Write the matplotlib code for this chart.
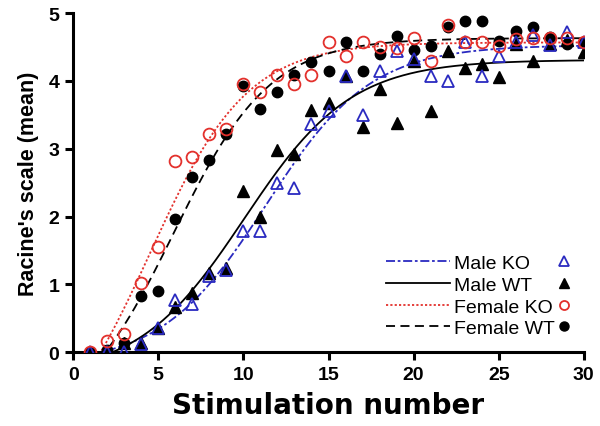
import numpy as np
import matplotlib
matplotlib.use('Agg')
import matplotlib.pyplot as plt
from matplotlib.lines import Line2D

plt.rcParams['font.family'] = ['Liberation Sans', 'DejaVu Sans']

# stimulation number and mean Racine score per group
stim = list(range(1, 31))
male_ko = [0, 0, 0, 0.12, 0.35, 0.77, 0.71, 1.12, 1.21, 1.78, 1.78, 2.5, 2.42, 3.36, 3.55,
           4.07, 3.5, 4.15, 4.44, 4.33, 4.07, 4.0, 4.58, 4.07, 4.37, 4.58, 4.68, 4.53, 4.72, 4.58]
male_wt = [0, 0, 0.13, 0.13, 0.35, 0.66, 0.87, 1.17, 1.24, 2.37, 2.0, 2.98, 2.92, 3.57, 3.68,
           4.07, 3.32, 3.88, 3.38, 4.3, 3.55, 4.44, 4.19, 4.25, 4.06, 4.55, 4.3, 4.55, 4.6, 4.43]
female_ko = [0, 0.16, 0.27, 1.02, 1.55, 2.82, 2.88, 3.22, 3.29, 3.96, 3.83, 4.09, 3.96, 4.09, 4.57,
             4.36, 4.58, 4.5, 4.49, 4.63, 4.3, 4.83, 4.58, 4.58, 4.52, 4.62, 4.63, 4.63, 4.64, 4.58]
female_wt = [0, 0.03, 0.13, 0.83, 0.9, 1.96, 2.58, 2.84, 3.21, 3.93, 3.59, 3.84, 4.08, 4.28, 4.15,
             4.58, 4.15, 4.4, 4.66, 4.45, 4.52, 4.8, 4.89, 4.89, 4.59, 4.73, 4.79, 4.65, 4.55, 4.58]

names = ['Male KO', 'Male WT', 'Female KO', 'Female WT']

blue = '#2a2ac0'
red = '#e3302c'


def boltzmann_fit(x, y):
    # 4-parameter Boltzmann sigmoid, grid over (v50, slope), linear solve for bottom/top
    x = np.asarray(x, float)
    y = np.asarray(y, float)
    v50 = np.arange(2, 16, 0.02)
    slope = np.arange(0.5, 8, 0.02)
    V, S = np.meshgrid(v50, slope, indexing='ij')
    f = 1.0 / (1.0 + np.exp((V[..., None] - x) / S[..., None]))
    g = 1.0 - f
    a11 = (g * g).sum(-1); a12 = (g * f).sum(-1); a22 = (f * f).sum(-1)
    b1 = (g * y).sum(-1); b2 = (f * y).sum(-1)
    det = a11 * a22 - a12 * a12
    bot = (b1 * a22 - b2 * a12) / det
    top = (a11 * b2 - a12 * b1) / det
    sse = (((bot[..., None] * g + top[..., None] * f) - y) ** 2).sum(-1)
    i = np.unravel_index(np.argmin(sse), sse.shape)
    return bot[i], top[i], V[i], S[i]


def curve(x, p):
    bot, top, v, s = p
    return bot + (top - bot) / (1 + np.exp((v - x) / s))


fig = plt.figure(figsize=(6, 4.27), dpi=100)
ax = fig.add_axes([0.122, 0.173, 0.851, 0.794])

xs = np.linspace(min(stim), max(stim), 400)
styles = [
    (male_ko, blue, (0, (5, 1.5, 1.5, 1.5))),
    (male_wt, 'black', '-'),
    (female_ko, red, (0, (1.2, 1.2))),
    (female_wt, 'black', (0, (5, 3))),
]
line_handles = []
for data, col, ls in styles:
    p = boltzmann_fit(stim, data)
    ax.plot(xs, curve(xs, p), color=col, ls=ls, lw=1.3, zorder=2)
    line_handles.append(Line2D([], [], color=col, ls=ls, lw=1.3))

# filled markers first, open markers on top
ax.plot(stim, male_wt, '^', ms=8, color='black', ls='none', zorder=3)
ax.plot(stim, female_wt, 'o', ms=7.5, color='black', ls='none', zorder=3)
ax.plot(stim, male_ko, '^', ms=8.5, mfc='none', mec=blue, mew=1.3, ls='none', zorder=4)
ax.plot(stim, female_ko, 'o', ms=8.5, mfc='none', mec=red, mew=1.3, ls='none', zorder=4)

ax.set_xlim(0, 30)
ax.set_ylim(0, 5)
ax.set_xticks([0, 5, 10, 15, 20, 25, 30])
ax.set_yticks([0, 1, 2, 3, 4, 5])
for s in ['top', 'right']:
    ax.spines[s].set_visible(False)
for s in ['left', 'bottom']:
    ax.spines[s].set_linewidth(2.2)
ax.tick_params(direction='out', length=6, width=2.2, labelsize=14, pad=4)
for lab in ax.get_xticklabels() + ax.get_yticklabels():
    lab.set_fontweight('bold')
ax.set_xlabel('Stimulation number', fontsize=20, fontweight='bold', labelpad=6,
              family=['DejaVu Sans'])
ax.set_ylabel("Racine's scale (mean)", fontsize=15.5, fontweight='bold', labelpad=7)

leg1 = ax.legend(line_handles, names, loc='lower left', bbox_to_anchor=(0.613, 0.044),
                 frameon=False, fontsize=14, handlelength=3.3, handletextpad=0.2,
                 labelspacing=0.21, borderpad=0, borderaxespad=0)
ax.add_artist(leg1)
mk = [Line2D([], [], marker='^', ms=7, mfc='none', mec=blue, mew=1.3, ls='none'),
      Line2D([], [], marker='^', ms=7, color='black', ls='none'),
      Line2D([], [], marker='o', ms=6.5, mfc='none', mec=red, mew=1.3, ls='none'),
      Line2D([], [], marker='o', ms=6.5, color='black', ls='none')]
ax.legend(mk, [' '] * 4, loc='lower left', bbox_to_anchor=(0.942, 0.044),
          frameon=False, fontsize=14, handlelength=1, handletextpad=0,
          labelspacing=0.21, borderpad=0, borderaxespad=0)

fig.savefig('out.png', dpi=100)
